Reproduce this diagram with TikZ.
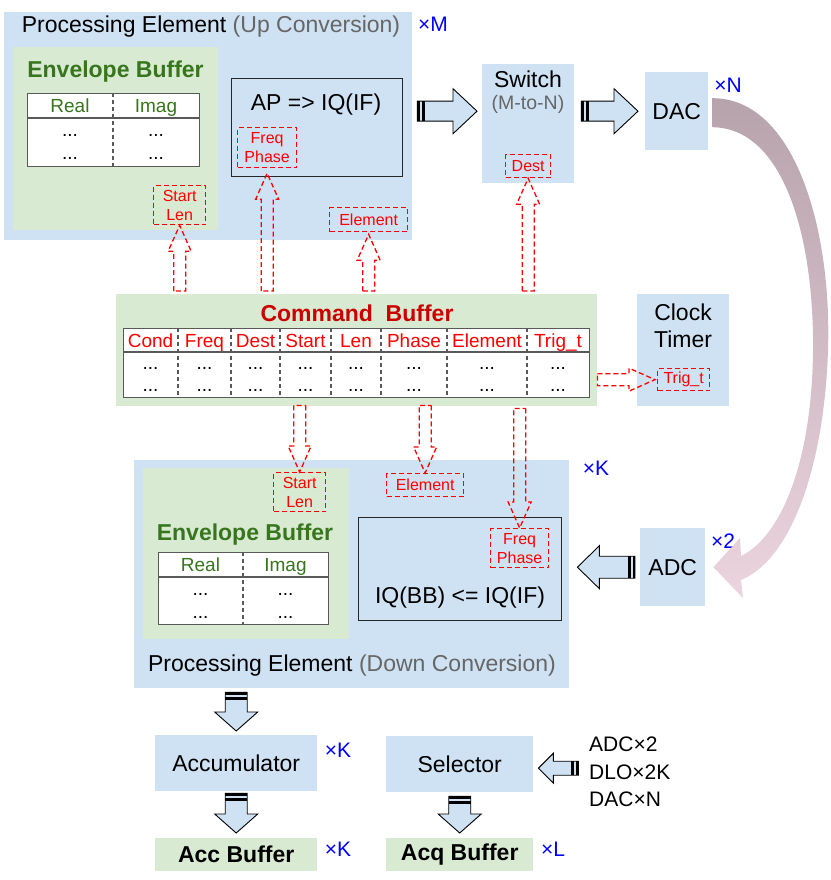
\documentclass[tikz,border=0pt]{standalone}
\usepackage{fontspec}
\setmainfont{Liberation Sans}
\usepackage{tikz}
\usetikzlibrary{calc}

\definecolor{peblue}{HTML}{CFE2F3}
\definecolor{envgreen}{HTML}{D9EAD3}
\definecolor{txtgreen}{HTML}{38761D}
\definecolor{cmdred}{HTML}{CC0000}
\definecolor{tagred}{HTML}{FF0000}
\definecolor{subgray}{HTML}{666666}
\definecolor{tabgray}{HTML}{595959}
\definecolor{mulblue}{HTML}{0000FF}
\definecolor{arctop}{HTML}{B7A3AC}
\definecolor{arcbot}{HTML}{EBD4DE}

\newcommand{\pefont}{\fontsize{23}{27}\selectfont}
\newcommand{\titlefont}{\bfseries\fontsize{23}{27}\selectfont}
\newcommand{\hdrfont}{\fontsize{19}{22}\selectfont}
\newcommand{\tagfont}{\fontsize{16}{19}\selectfont}
\newcommand{\mulfont}{\fontsize{21}{24}\selectfont}
\newcommand{\subfont}{\fontsize{19.5}{23}\selectfont}
\newcommand{\srcfont}{\fontsize{21}{27.5}\selectfont}

\tikzset{
	pebox/.style={fill=peblue, anchor=north west, inner sep=0pt},
	envbox/.style={fill=envgreen, anchor=north west, inner sep=0pt},
	tabbox/.style={draw=tabgray, fill=white, line width=1.2pt, anchor=north west, inner sep=0pt},
	opbox/.style={draw=black!85, fill=peblue, line width=1.3pt, anchor=north west, inner sep=0pt},
	tagbox/.style={draw=tagred, dash pattern=on 5pt off 3pt, line width=1.3pt, text=tagred,
			font=\tagfont, align=center, anchor=north west, inner sep=0pt},
	petxt/.style={font=\pefont, inner sep=0pt},
	envtitle/.style={font=\titlefont, text=txtgreen, inner sep=0pt},
	envhdr/.style={font=\hdrfont, text=txtgreen, inner sep=0pt, text height=13.7pt, text depth=4pt},
	cmdtitle/.style={font=\titlefont, text=cmdred, inner sep=0pt},
	cmdhdr/.style={font=\hdrfont, text=tagred, inner sep=0pt, text height=13.7pt, text depth=4pt},
	dottxt/.style={font=\hdrfont, inner sep=0pt},
	multxt/.style={font=\mulfont, text=mulblue, inner sep=0pt},
	tabline/.style={draw=tabgray, line width=1.2pt},
	tabdiv/.style={draw=tabgray, dash pattern=on 4pt off 3pt, line width=1.2pt},
	cmdarrow/.style={draw=tagred, dash pattern=on 5pt off 3pt, line width=1.3pt, line join=miter},
	fatarrow/.style={fill=peblue, draw=black, line width=0.9pt, line join=miter}
}

% striped block arrow: tail, tip, shaft half width, head half width, head length
\newcommand{\blockarrow}[5]{%
	\coordinate (bt) at (#1);
	\coordinate (bp) at (#2);
	\coordinate (b1) at ($(bt)!2.5pt!(bp)$);
	\coordinate (b2) at ($(bt)!4.5pt!(bp)$);
	\coordinate (b3) at ($(bt)!7.5pt!(bp)$);
	\coordinate (bh) at ($(bp)!#5!(bt)$);
	\filldraw[fatarrow] ($(bt)!#3!90:(bp)$) -- ($(bh)!#3!90:(bp)$) -- ($(bh)!#4!90:(bp)$) -- (bp)
		-- ($(bh)!#4!-90:(bp)$) -- ($(bh)!#3!-90:(bp)$) -- ($(bt)!#3!-90:(bp)$) -- cycle;
	\fill[black] ($(bt)!#3!90:(bp)$) -- ($(b1)!#3!90:(bp)$) -- ($(b1)!#3!-90:(bp)$) -- ($(bt)!#3!-90:(bp)$) -- cycle;
	\fill[black] ($(b2)!#3!90:(bp)$) -- ($(b3)!#3!90:(bp)$) -- ($(b3)!#3!-90:(bp)$) -- ($(b2)!#3!-90:(bp)$) -- cycle;
}

% dashed hollow arrow: tail, tip
\newcommand{\hollowarrow}[2]{%
	\coordinate (ht) at (#1);
	\coordinate (hp) at (#2);
	\coordinate (hh) at ($(hp)!26pt!(ht)$);
	\draw[cmdarrow] ($(ht)!6pt!90:(hp)$) -- ($(hh)!6pt!90:(hp)$) -- ($(hh)!11.5pt!90:(hp)$) -- (hp)
		-- ($(hh)!11.5pt!-90:(hp)$) -- ($(hh)!6pt!-90:(hp)$) -- ($(ht)!6pt!-90:(hp)$) -- cycle;
}

\begin{document}
\begin{tikzpicture}[x=1pt, y=-1pt]

		\useasboundingbox (0,0) rectangle (830,880);

		% Processing element (up conversion)
		\node[pebox, minimum width=408, minimum height=228] (upe) at (4,12) {};
		\node[petxt] (uptitle) at (211,27) {Processing Element \textcolor{subgray}{(Up Conversion)}};
		\node[multxt] at (433,24) {×M};

		\node[envbox, minimum width=205, minimum height=183] (uenv) at (13,47) {};
		\node[envtitle] at (115.5,72) {Envelope Buffer};
		\node[tabbox, minimum width=172, minimum height=73] (utab) at (27,93) {};
		\draw[tabline] ([yshift=-25pt]utab.north west) -- ([yshift=-25pt]utab.north east);
		\draw[tabdiv] ([xshift=86pt]utab.north west) -- ([xshift=86pt]utab.south west);
		\node[envhdr] at (70,108) {Real};
		\node[envhdr] at (156,108) {Imag};
		\foreach \cx in {70,156} {
				\node[dottxt] at (\cx,135) {...};
				\node[dottxt] at (\cx,158) {...};
			}
		\node[tagbox, minimum width=52, minimum height=39] (ulen) at (153,185) {Start\\Len};

		\node[opbox, minimum width=171, minimum height=98] (ap) at (231,78) {};
		\node[petxt] at (316,105) {AP => IQ(IF)};
		\node[tagbox, minimum width=59, minimum height=40] (uphase) at (237,127) {Freq\\Phase};
		\node[tagbox, minimum width=78, minimum height=24] (uelem) at (329,207) {Element};

		% Switch and DAC
		\node[pebox, minimum width=92, minimum height=119] (sw) at (482,64) {};
		\node[petxt] at (528,79) {Switch};
		\node[font=\subfont, text=subgray, inner sep=0pt] at (528,104) {(M-to-N)};
		\node[tagbox, minimum width=45, minimum height=23] (dest) at (505,154) {Dest};

		\node[pebox, minimum width=63, minimum height=78, font=\pefont] (dac) at (645,72) {DAC};
		\node[multxt] at (728,85) {×N};

		% Command buffer
		\node[envbox, minimum width=481, minimum height=112] (cmd) at (116,294) {};
		\node[cmdtitle] at (357,313) {Command\ \ Buffer};
		\node[tabbox, minimum width=466, minimum height=69] (ctab) at (123,328) {};
		\draw[tabline] ([yshift=-24pt]ctab.north west) -- ([yshift=-24pt]ctab.north east);
		\foreach \cx in {178,231,280,331,381,447,527} {
				\draw[tabdiv] (\cx,328) -- (\cx,397);
			}
		\foreach \cx/\lbl in {150.5/Cond, 204.5/Freq, 255.5/Dest, 305.5/Start, 356/Len, 414/Phase, 487/Element, 558/Trig\_t} {
				\node[cmdhdr] at (\cx,343) {\lbl};
				\node[dottxt] at (\cx,368) {...};
				\node[dottxt] at (\cx,390) {...};
			}

		% Clock timer
		\node[pebox, minimum width=92, minimum height=112] (clk) at (637,294) {};
		\node[petxt] at (683,312) {Clock};
		\node[petxt] at (683,339) {Timer};
		\node[tagbox, minimum width=52, minimum height=22] (trig) at (657,368) {Trig\_t};

		% Processing element (down conversion)
		\node[pebox, minimum width=435, minimum height=228] (dpe) at (134,460) {};
		\node[multxt] at (596,468) {×K};

		\node[envbox, minimum width=206, minimum height=171] (denv) at (143,468) {};
		\node[tagbox, minimum width=52, minimum height=39] (dlen) at (273,472) {Start\\Len};
		\node[envtitle] at (245,535) {Envelope Buffer};
		\node[tabbox, minimum width=170, minimum height=72] (dtab) at (158,552) {};
		\draw[tabline] ([yshift=-25pt]dtab.north west) -- ([yshift=-25pt]dtab.north east);
		\draw[tabdiv] ([xshift=85pt]dtab.north west) -- ([xshift=85pt]dtab.south west);
		\node[envhdr] at (200.5,567) {Real};
		\node[envhdr] at (285.5,567) {Imag};
		\foreach \cx in {200.5,285.5} {
				\node[dottxt] at (\cx,594) {...};
				\node[dottxt] at (\cx,617) {...};
			}

		\node[tagbox, minimum width=77, minimum height=23] (delem) at (386,473) {Element};
		\node[opbox, minimum width=203, minimum height=103] (iq) at (358,517) {};
		\node[tagbox, minimum width=58, minimum height=39] (dphase) at (490,528) {Freq\\Phase};
		\node[petxt] at (460,598) {IQ(BB) <= IQ(IF)};
		\node[petxt] (dntitle) at (352,666) {Processing Element \textcolor{subgray}{(Down Conversion)}};

		% ADC
		\node[pebox, minimum width=65, minimum height=78, font=\pefont] (adc) at (640,528) {ADC};
		\node[multxt] at (723,541) {×2};

		% Accumulation and acquisition
		\node[pebox, minimum width=162, minimum height=56, font=\pefont] (acc) at (155,735) {Accumulator};
		\node[multxt] at (338,750) {×K};
		\node[envbox, minimum width=162, minimum height=33, font=\titlefont] (accbuf) at (155,838) {Acc Buffer};
		\node[multxt] at (338,849) {×K};

		\node[pebox, minimum width=147, minimum height=56, font=\pefont] (sel) at (386,736) {Selector};
		\node[envbox, minimum width=147, minimum height=33, font=\titlefont] (acqbuf) at (386,838) {Acq Buffer};
		\node[multxt] at (553,849) {×L};
		\node[font=\srcfont, align=left, anchor=west, inner sep=0pt] (srcs) at (589,772) {ADC×2\\DLO×2K\\DAC×N};

		% --- Block arrows ---
		\blockarrow{$(upe.east)+(5,-15)$}{$(sw.west)+(-5,-12.5)$}{10pt}{22.5pt}{24pt}
		\blockarrow{$(sw.east)+(7,-12.5)$}{$(dac.west)+(-7,0)$}{10pt}{22.5pt}{24pt}
		\blockarrow{$(adc.west)+(-5,0)$}{$(dpe.east |- adc.west)+(8,0)$}{11pt}{21.5pt}{22pt}
		\blockarrow{$(acc.north |- dpe.south)+(0,4)$}{$(acc.north)+(0,-4)$}{11pt}{21.5pt}{19pt}
		\blockarrow{$(acc.south)+(0,2)$}{$(acc.south |- accbuf.north)+(0,-5)$}{11pt}{21.5pt}{19pt}
		\blockarrow{$(sel.south)+(0,4)$}{$(acqbuf.north)+(0,-5)$}{11pt}{21.5pt}{19pt}
		\blockarrow{$(sel.east)+(45,4)$}{$(sel.east)+(5,4)$}{7pt}{15pt}{15pt}

		% --- Command fields to their users ---
		\hollowarrow{$(cmd.north -| ulen.south)+(0,-3)$}{ulen.south}
		\hollowarrow{$(cmd.north -| uphase.south)+(0,-3)$}{$(uphase.south)+(0,5)$}
		\hollowarrow{$(cmd.north -| uelem.south)+(0,-3)$}{$(uelem.south)+(0,2)$}
		\hollowarrow{$(cmd.north -| dest.south)+(0,-3)$}{dest.south}
		\hollowarrow{$(cmd.south -| dlen.north)+(0,-1)$}{dlen.north}
		\hollowarrow{$(cmd.south -| delem.north)+(0,-1)$}{delem.north}
		\hollowarrow{$(cmd.south -| dphase.north)+(0,2)$}{dphase.north}
		\hollowarrow{cmd.east |- trig.west}{$(trig.west)+(-2,0)$}

		% Loop back from DAC to ADC
		\coordinate (loopin) at ([xshift=4pt]dac.east);
		\coordinate (looptip) at ([xshift=8pt]adc.east);
		\shade[top color=arctop, bottom color=arcbot]
		($(loopin)+(0,-13)$) .. controls (795,98) and (832,230) .. (828,350)
		.. controls (824,470) and (790,560) .. (741,580)
		-- (743,598) -- (looptip) -- (740,538) -- (741,556)
		.. controls (782,536) and (812,460) .. (813,350)
		.. controls (814,240) and (785,128) .. ($(loopin)+(0,16)$) -- cycle;

	\end{tikzpicture}
\end{document}
